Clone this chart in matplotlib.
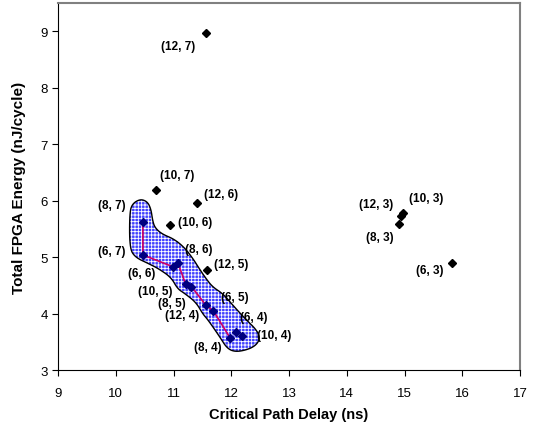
import numpy as np
import matplotlib.pyplot as plt
from matplotlib.patches import Polygon

# points outside the pareto region (delay ns, energy nJ/cycle)
other_labels = ["(12, 7)", "(10, 7)", "(12, 6)", "(10, 6)", "(12, 5)",
                "(12, 3)", "(10, 3)", "(8, 3)", "(6, 3)"]
other_delay = [11.56, 10.69, 11.40, 10.94, 11.58, 14.94, 14.98, 14.91, 15.83]
other_energy = [8.97, 6.19, 5.96, 5.57, 4.78, 5.73, 5.79, 5.59, 4.89]

# points inside the shaded region
front_labels = ["(8, 7)", "(6, 7)", "(6, 6)", "(8, 6)", "(10, 5)", "(8, 5)",
                "(12, 4)", "(6, 5)", "(8, 4)", "(6, 4)", "(10, 4)"]
front_delay = [10.47, 10.47, 10.99, 11.08, 11.21, 11.31, 11.56, 11.69, 11.98, 12.08, 12.19]
front_energy = [5.62, 5.04, 4.83, 4.89, 4.52, 4.48, 4.15, 4.05, 3.57, 3.67, 3.60]
path_order = [0, 1, 2, 3, 4, 5, 6, 7, 8]

# outline of the shaded region
region_x = [10.43, 10.55, 10.61, 10.64, 10.68, 10.80, 11.01, 11.19, 11.34, 11.45,
            11.57, 11.68, 11.86, 12.06, 12.28, 12.42, 12.50, 12.45, 12.31, 12.08,
            11.93, 11.80, 11.59, 11.51, 11.39, 11.19, 11.07, 10.96, 10.75, 10.58,
            10.33, 10.24, 10.24, 10.29]
region_y = [6.03, 5.98, 5.85, 5.64, 5.52, 5.41, 5.32, 5.17, 4.97, 4.79,
            4.61, 4.47, 4.35, 4.11, 3.87, 3.73, 3.59, 3.46, 3.37, 3.32,
            3.38, 3.59, 3.90, 3.99, 4.20, 4.36, 4.44, 4.64, 4.79, 4.88,
            5.00, 5.17, 5.79, 5.95]

# label offsets in pixels (layout only)
other_off = [(-28, -13), (22, 15), (24, 9), (25, 3), (24, 6),
             (-25, 12), (23, 15), (-20, -13), (-23, -7)]
front_off = [(-31, 17), (-31, 4), (-31, -6), (21, 14), (-30, -7), (-20, -16),
             (-24, -10), (21, 14), (-22, -9), (18, 15), (32, 1)]


def chaikin(x, y, n=3):
    p = np.column_stack([x, y])
    for _ in range(n):
        q = np.roll(p, -1, axis=0)
        a = 0.75 * p + 0.25 * q
        b = 0.25 * p + 0.75 * q
        p = np.empty((2 * len(a), 2))
        p[0::2] = a
        p[1::2] = b
    return p


plt.rcParams['font.family'] = ['Liberation Sans', 'DejaVu Sans']
plt.rcParams['hatch.linewidth'] = 0.6

fig = plt.figure(figsize=(5.35, 4.31), dpi=100)
ax = fig.add_axes([0.1084, 0.139, 0.8636, 0.8516])

outline = chaikin(region_x, region_y)
ax.add_patch(Polygon(outline, closed=True, facecolor='#4040ff', edgecolor='white',
                     hatch='+++++', linewidth=0, zorder=1))
ax.add_patch(Polygon(outline, closed=True, fill=False, edgecolor='black',
                     linewidth=1.0, zorder=2))

ax.plot([front_delay[i] for i in path_order], [front_energy[i] for i in path_order],
        color='#cc0066', linewidth=1.2, zorder=3)
ax.plot(front_delay, front_energy, linestyle='none', marker='D', markersize=4.5,
        color='#000080', zorder=4)
ax.plot(other_delay, other_energy, linestyle='none', marker='D', markersize=4.3,
        color='black', zorder=4)

for lab, x, y, off in zip(other_labels + front_labels, other_delay + front_delay,
                          other_energy + front_energy, other_off + front_off):
    ax.annotate(lab, (x, y), xytext=off, textcoords='offset pixels', ha='center',
                va='center', fontsize=8.5, fontweight='bold')

ax.set_xlim(9, 17)
ax.set_ylim(3, 9.5)
ax.set_xticks(range(9, 18))
ax.set_yticks(range(3, 10))
ax.tick_params(direction='out', length=4, labelsize=9.5, width=0.8)
ax.tick_params(axis='x', pad=8)
for s in ['top', 'right']:
    ax.spines[s].set_color('#808080')
    ax.spines[s].set_linewidth(1.5)

ax.set_xlabel("Critical Path Delay (ns)", fontsize=10.5, fontweight='bold', labelpad=6)
ax.set_ylabel("Total FPGA Energy (nJ/cycle)", fontsize=11, fontweight='bold', labelpad=10)

fig.savefig("out.png", dpi=100)
